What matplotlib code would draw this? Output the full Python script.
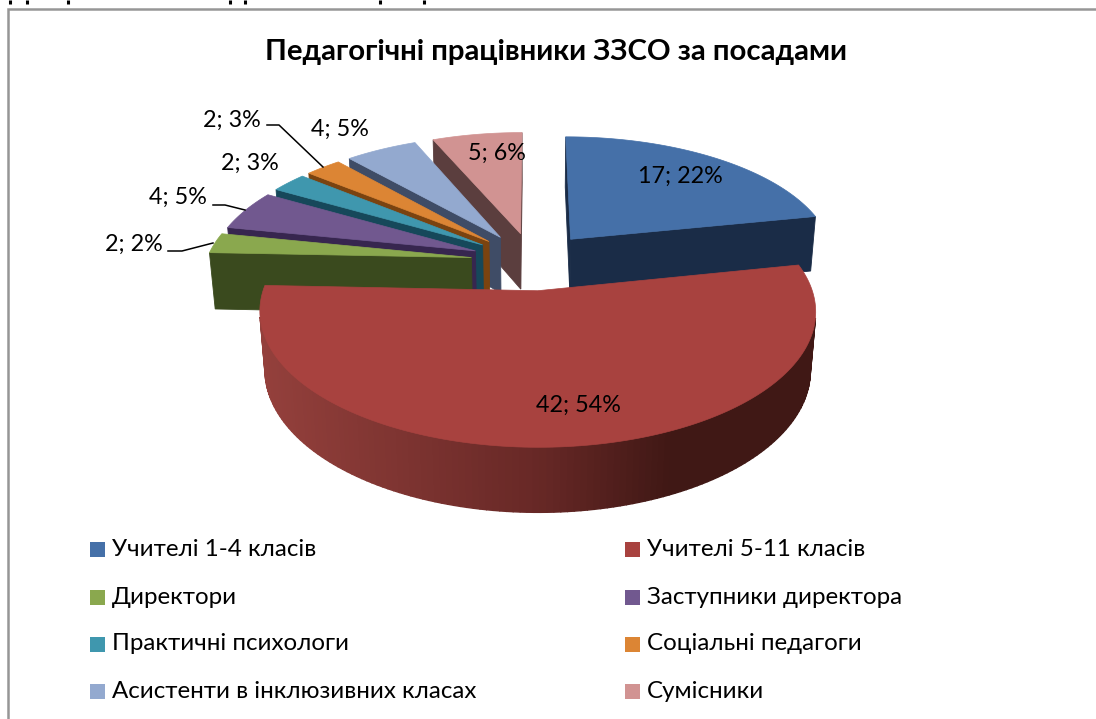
import numpy as np
import matplotlib
matplotlib.use("Agg")
import matplotlib.pyplot as plt
from matplotlib.patches import Polygon, Rectangle

# ---- data ----
categories = ["Учителі 1-4 класів", "Учителі 5-11 класів", "Директори", "Заступники директора",
              "Практичні психологи", "Соціальні педагоги", "Асистенти в інклюзивних класах", "Сумісники"]
values = [17, 42, 2, 4, 2, 2, 4, 5]
value_labels = ["17; 22%", "42; 54%", "2; 2%", "4; 5%", "2; 3%", "2; 3%", "4; 5%", "5; 6%"]
title_text = "Педагогічні працівники ЗЗСО за посадами"

# ---- style ----
top_colors = ["#4570a8", "#a8423f", "#8aa84e", "#71588f", "#3f97ae", "#dc8534", "#93a9cf", "#d19392"]
side_colors = ["#1a2c47", "#6e2c2a", "#3a4a1e", "#37264f", "#16485a", "#7a4310", "#3f4c66", "#5b3e3e"]
RED_LEFT, RED_MID, RED_RIGHT = "#94403c", "#672826", "#401815"

FONT = ["Lato", "Open Sans", "DejaVu Sans"]
plt.rcParams["font.family"] = FONT

W, H = 1096, 719
fig = plt.figure(figsize=(W / 100, H / 100), dpi=100)
ax = fig.add_axes([0, 0, 1, 1])
ax.set_xlim(0, W)
ax.set_ylim(H, 0)
ax.axis("off")

# ---- perspective pie camera ----
CX, CY = 532.5, 261.0
F, D, KY = 1790.0, 6.75, 0.466
EXPLODE = 0.233
THICK_Y, THICK_W = 390.0, 0.123


def project(x, y, bottom):
    w = D + y + (THICK_W if bottom else 0.0)
    sx = CX + F * x / w
    sy = CY - (F * KY * y - (THICK_Y if bottom else 0.0)) / w
    return np.column_stack([sx, sy])


def signed_area(p):
    x, y = p[:, 0], p[:, 1]
    return 0.5 * np.sum(x * np.roll(y, -1) - np.roll(x, -1) * y)


def lerp_color(c1, c2, t):
    a, b = np.array(matplotlib.colors.to_rgb(c1)), np.array(matplotlib.colors.to_rgb(c2))
    return tuple(a + (b - a) * t)


def red_shade(sx):
    if sx < 540:
        return lerp_color(RED_LEFT, RED_MID, np.clip((sx - 265) / 275, 0, 1))
    return lerp_color(RED_MID, RED_RIGHT, np.clip((sx - 540) / 130, 0, 1))


total = sum(values)
sweeps = [v / total * 360 for v in values]
starts = 90 - np.concatenate([[0], np.cumsum(sweeps)[:-1]])
draw_order = [7, 6, 5, 4, 3, 2, 0, 1]

for i in draw_order:
    a1 = np.radians(starts[i])
    a0 = np.radians(starts[i] - sweeps[i])
    mid = (a0 + a1) / 2
    ox, oy = EXPLODE * np.cos(mid), EXPLODE * np.sin(mid)
    th = np.linspace(a0, a1, 160)
    rx, ry = ox + np.cos(th), oy + np.sin(th)
    z = 2 + draw_order.index(i) * 3
    # outer rim and radial faces: only those turned to the viewer
    up = project(np.r_[ox, rx], np.r_[oy, ry], False)
    lo = project(np.r_[ox, rx], np.r_[oy, ry], True)
    for j in range(1, len(rx)):
        q = np.array([up[j], up[j + 1], lo[j + 1], lo[j]])
        if signed_area(q) > 0:
            col = red_shade(q[:, 0].mean()) if i == 1 else side_colors[i]
            ax.add_patch(Polygon(q, closed=True, fc=col, ec=col, lw=1.0, zorder=z))
    for j, k in ((0, 1), (len(rx), 0)):
        q = np.array([up[j], up[k], lo[k], lo[j]])
        if signed_area(q) > 0:
            ax.add_patch(Polygon(q, closed=True, fc=side_colors[i], ec=side_colors[i], lw=0.6, zorder=z))
    ax.add_patch(Polygon(up, closed=True, fc=top_colors[i], ec=top_colors[i], lw=0.5, zorder=z + 1))

# ---- frame and the cut-off line of page text above it ----
ax.plot([7.5, 7.5, W], [H, 8.5, 8.5], color="#969696", lw=1.8, solid_joinstyle="miter", zorder=1)
ax.vlines([10, 27, 68, 230, 245, 380, 424], 0, 4, color="black", lw=2.2, zorder=1)

# ---- texts ----
ax.text(556, 52, title_text, ha="center", va="center", fontsize=21.2, fontweight="bold", color="black", zorder=60)

label_xy = [(680, 176), (578, 405), (134, 244), (178, 197), (250, 163), (232, 120), (340, 129), (497, 153)]
for (lx, ly), s in zip(label_xy, value_labels):
    ax.text(lx, ly, s, ha="center", va="center", fontsize=16.8, color="black", zorder=60)

leaders = [([168, 182, 213], [251, 251, 243]),
           ([213, 225, 245], [205, 205, 210]),
           ([267, 279, 323], [125, 125, 167])]
for xs, ys in leaders:
    ax.plot(xs, ys, color="black", lw=1.1, zorder=61)

# ---- legend ----
legend_rows = [549.5, 597, 644, 691]
legend_cols = [90, 625]
for i, name in enumerate(categories):
    x0 = legend_cols[i % 2]
    y0 = legend_rows[i // 2]
    ax.add_patch(Rectangle((x0, y0 - 7.5), 15, 15, fc=top_colors[i], ec="none", zorder=60))
    ax.text(x0 + 22, y0, name, ha="left", va="center", fontsize=17.4, color="black", zorder=60)

fig.savefig("out.png", dpi=100)
